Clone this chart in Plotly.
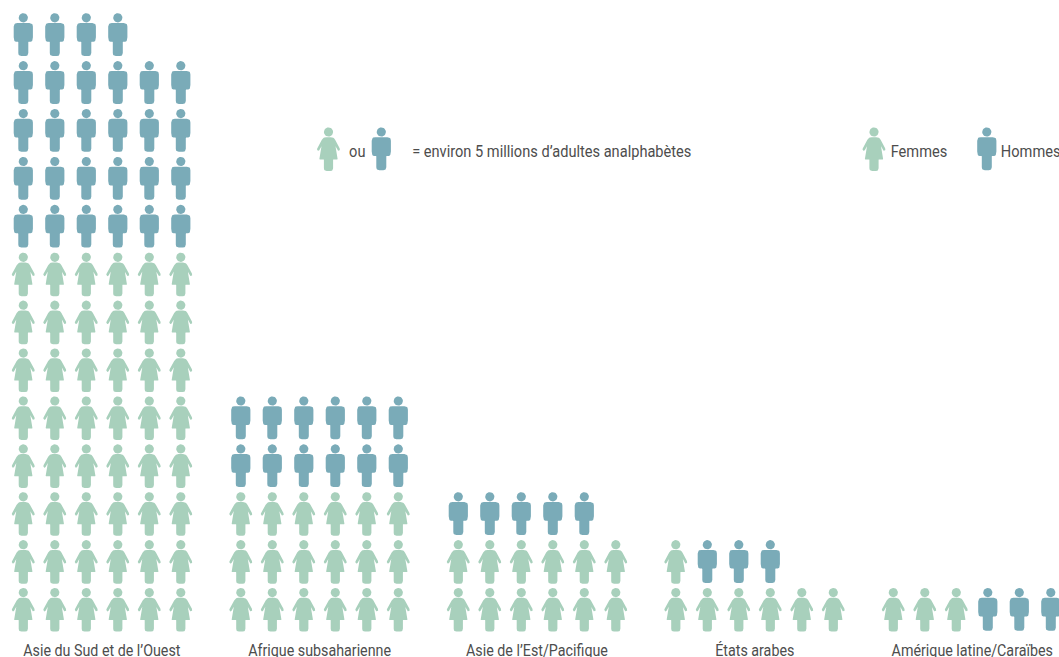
import math
import plotly.graph_objects as go

regions = ["Asie du Sud et de l’Ouest", "Afrique subsaharienne", "Asie de l’Est/Pacifique", "États arabes", "Amérique latine/Caraïbes"]
women_icons = [48, 18, 12, 7, 3]
men_icons = [28, 12, 5, 3, 3]
legend_note = "= environ 5 millions d’adultes analphabètes"

WOMAN_COLOR = "#a8d0bc"
MAN_COLOR = "#7aabb8"
TEXT_COLOR = "#4d4d4d"
FONT = "Roboto"
FONT_SIZE = 16.5
NOTE_SQUEEZE = 0.885
LABEL_SQUEEZE = 0.865
PER_ROW = 6
COL_STEP, ROW_STEP, GROUP_STEP = 31.5, 47.9, 217.5
X0, BASE_Y = 23.3, 592.6


def rounded(verts, steps=6):
    """Closed outline from (x, y, corner radius) vertices, corners as quadratic curves."""
    out = []
    n = len(verts)
    for i, (x, y, r) in enumerate(verts):
        if r <= 0:
            out.append((x, y))
            continue
        ax, ay, _ = verts[i - 1]
        bx, by, _ = verts[(i + 1) % n]
        la, lb = math.hypot(ax - x, ay - y), math.hypot(bx - x, by - y)
        ra, rb = min(r, la / 2) / la, min(r, lb / 2) / lb
        p0 = (x + (ax - x) * ra, y + (ay - y) * ra)
        p2 = (x + (bx - x) * rb, y + (by - y) * rb)
        for s in range(steps + 1):
            t = s / steps
            out.append(((1 - t) ** 2 * p0[0] + 2 * t * (1 - t) * x + t * t * p2[0],
                        (1 - t) ** 2 * p0[1] + 2 * t * (1 - t) * y + t * t * p2[1]))
    return out


def mirror(half):
    return [(-x, y, r) for x, y, r in reversed(half)] + half


head = [(4.6 * math.cos(t / 24 * 2 * math.pi), 4.6 * math.sin(t / 24 * 2 * math.pi)) for t in range(24)]
man_body = mirror([(9.6, 5.2, 3.6), (9.6, 23.9, 4.5), (5, 23.9, 0.4), (5, 38.2, 3)])
woman_body = mirror([(5.2, 5.2, 3), (11.9, 17.6, 1.6), (9.9, 19.4, 1.4), (7, 14.2, 0.3),
                     (9.2, 27.4, 0.5), (4.6, 27.4, 0.3), (4.6, 39, 2.8)])
man_glyph = [head, rounded(man_body)]
woman_glyph = [head, rounded(woman_body)]


def add_icons(xs, ys, glyph, color, name):
    px, py = [], []
    for cx, cy in zip(xs, ys):
        for part in glyph:
            px += [cx + a for a, _ in part] + [cx + part[0][0], None]
            py += [cy + b for _, b in part] + [cy + part[0][1], None]
    fig.add_trace(go.Scatter(x=px, y=py, mode="lines", fill="toself", fillcolor=color,
                             line=dict(width=0, color=color), name=name, hoverinfo="name", showlegend=False))


fig = go.Figure()
wx, wy, mx, my = [], [], [], []
for g, (w, m) in enumerate(zip(women_icons, men_icons)):
    for i in range(w + m):
        x = X0 + g * GROUP_STEP + (i % PER_ROW) * COL_STEP
        y = BASE_Y - (i // PER_ROW) * ROW_STEP
        if i < w:
            wx.append(x); wy.append(y)
        else:
            mx.append(x); my.append(y)

# legend icons
wx += [328.5, 874]; wy += [132, 132]
mx += [381.3, 986.8]; my += [132, 132]
add_icons(wx, wy, woman_glyph, WOMAN_COLOR, "Femmes")
add_icons(mx, my, man_glyph, MAN_COLOR, "Hommes")

notes = [(357.5, 151.5, "ou"), (551.5, 151.5, legend_note), (919, 151.5, "Femmes"), (1030, 151.5, "Hommes")]
annotations = [dict(x=x, y=y, text=t, xanchor="center", yanchor="middle", showarrow=False, xref="x", yref="y",
                    font=dict(family=FONT, size=FONT_SIZE, color=TEXT_COLOR)) for x, y, t in notes]
for g, name in enumerate(regions):
    annotations.append(dict(x=X0 + g * GROUP_STEP + 2.5 * COL_STEP, y=650.5, text=name,
                            xanchor="center", yanchor="middle", showarrow=False, xref="x", yref="y",
                            font=dict(family=FONT, size=FONT_SIZE, color=TEXT_COLOR)))

fig.update_layout(
    width=1059, height=657, margin=dict(l=0, r=0, t=0, b=0),
    paper_bgcolor="white", plot_bgcolor="white", annotations=annotations,
    xaxis=dict(range=[0, 1059], visible=False, fixedrange=True),
    yaxis=dict(range=[657, 0], visible=False, fixedrange=True),
)
# Page margin off; condensed look for the text (the font list has no condensed face).
post = """
document.body.style.margin = '0';
document.querySelectorAll('.annotation-text').forEach(function (t, i) {
  t.setAttribute('lengthAdjust', 'spacingAndGlyphs');
  t.setAttribute('textLength', t.getComputedTextLength() * (i < 4 ? %s : %s));
});
""" % (NOTE_SQUEEZE, LABEL_SQUEEZE)
fig.write_html("out.html", config=dict(displayModeBar=False), post_script=post)
